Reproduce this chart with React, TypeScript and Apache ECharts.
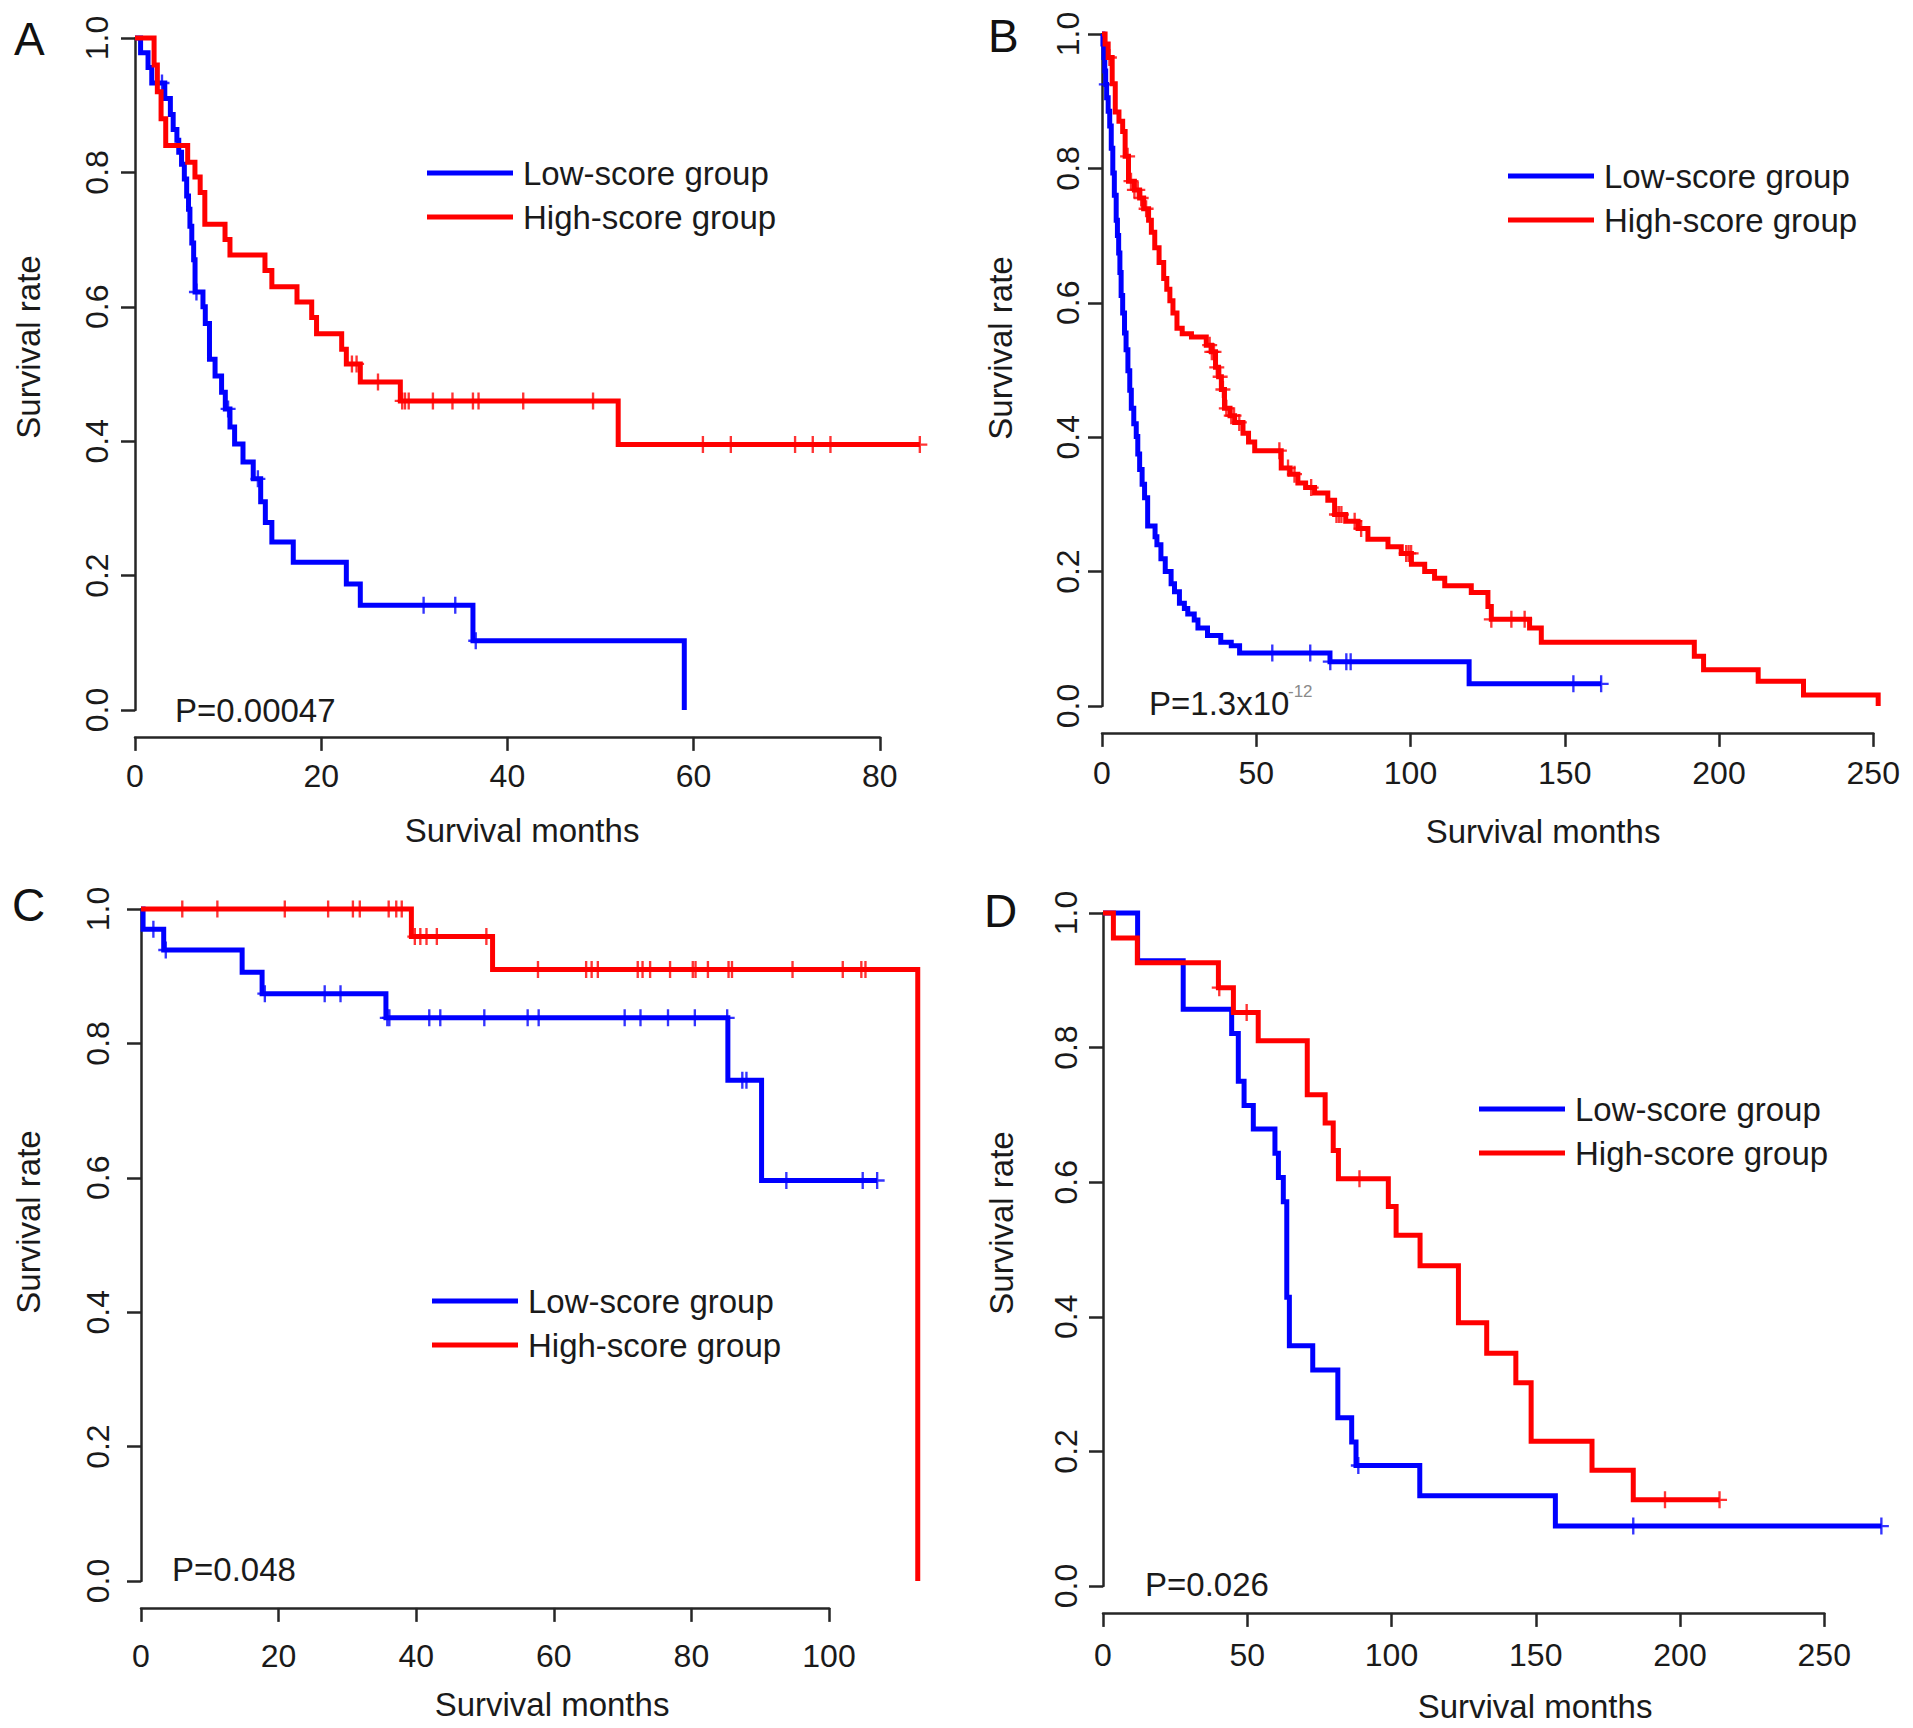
import React, { useEffect, useRef } from "react";
import * as echarts from "echarts";

// ---------------- DATA ----------------
const groupNames = ["Low-score group", "High-score group"];
const yTickLabels = [0, 0.2, 0.4, 0.6, 0.8, 1.0];

// Panel A
const A_lowTimes = [0.6, 1.4, 1.8, 3.2, 3.8, 4.1, 4.5, 4.7, 5.0, 5.3, 5.55, 5.75, 5.9, 6.1, 6.3, 6.45, 7.3, 7.55, 8.0, 8.6, 9.3, 9.7, 10.2, 10.7, 11.6, 12.7, 13.5, 14.0, 14.7, 17.0, 22.7, 24.2, 36.3, 59.0];
const A_lowSurv = [0.978, 0.956, 0.933, 0.91, 0.886, 0.864, 0.848, 0.83, 0.812, 0.79, 0.765, 0.745, 0.72, 0.695, 0.67, 0.622, 0.6, 0.575, 0.522, 0.497, 0.473, 0.448, 0.421, 0.396, 0.369, 0.344, 0.31, 0.279, 0.25, 0.22, 0.1875, 0.156, 0.103, 0];
const A_lowCensor = [2.9, 6.6, 10.0, 13.2, 31.0, 34.4, 36.6];
const A_highTimes = [2.05, 2.4, 2.8, 3.3, 5.66, 6.44, 7.0, 7.5, 9.67, 10.2, 13.96, 14.7, 17.4, 18.98, 19.5, 22.2, 22.7, 24.2, 28.5, 51.9];
const A_highSurv = [0.96, 0.92, 0.88, 0.84, 0.815, 0.793, 0.77, 0.723, 0.7, 0.677, 0.654, 0.63, 0.607, 0.584, 0.56, 0.537, 0.515, 0.488, 0.46, 0.395];
const A_highCensor = [23.3, 23.8, 26.1, 28.7, 29.0, 29.4, 32.0, 34.1, 36.3, 36.9, 41.7, 49.2, 61.0, 64.0, 70.9, 72.8, 74.7, 84.3];
const A_xTicks = [0, 20, 40, 60, 80];
const A_pText = "P=0.00047";

// Panel B
const B_lowTimes = [0.3, 0.6, 0.9, 1.2, 1.5, 2.0, 2.5, 3.0, 3.5, 4.0, 4.6, 5.0, 5.4, 5.8, 6.2, 6.7, 7.3, 7.8, 8.4, 9.0, 9.5, 10.3, 11.1, 11.6, 12.2, 13.0, 13.8, 14.8, 17.2, 17.8, 19.1, 20.5, 22.4, 23.5, 25.1, 26.7, 27.8, 29.9, 31.1, 34.2, 38.5, 41.9, 44.6, 73.9, 119.0];
const B_lowSurv = [0.985, 0.965, 0.945, 0.925, 0.905, 0.885, 0.863, 0.83, 0.793, 0.76, 0.723, 0.7, 0.674, 0.645, 0.611, 0.585, 0.555, 0.53, 0.499, 0.47, 0.443, 0.42, 0.401, 0.375, 0.352, 0.33, 0.31, 0.268, 0.252, 0.24, 0.219, 0.2, 0.182, 0.17, 0.153, 0.145, 0.137, 0.128, 0.116, 0.105, 0.095, 0.0896, 0.079, 0.066, 0.033];
const B_lowCensor = [1.4, 55.2, 67.5, 74.0, 79.2, 80.6, 152.8, 161.8];
const B_highTimes = [1.0, 2.0, 3.3, 4.3, 5.5, 6.7, 7.5, 8.6, 10.5, 12.2, 13.5, 15.1, 16.0, 17.1, 18.5, 20.0, 21.0, 22.0, 23.0, 24.3, 26.0, 29.0, 33.8, 35.5, 36.8, 37.8, 38.7, 39.7, 41.5, 43.0, 45.7, 47.5, 49.5, 58.1, 61.0, 63.5, 66.0, 68.9, 73.2, 75.4, 79.0, 83.0, 86.2, 92.7, 97.0, 100.3, 104.6, 107.8, 111.1, 119.7, 125.1, 126.2, 138.6, 142.4, 192.0, 195.0, 212.7, 227.4, 251.6];
const B_highSurv = [0.985, 0.965, 0.926, 0.884, 0.87, 0.855, 0.818, 0.781, 0.768, 0.756, 0.74, 0.723, 0.705, 0.682, 0.66, 0.636, 0.62, 0.603, 0.585, 0.562, 0.554, 0.549, 0.537, 0.527, 0.504, 0.49, 0.471, 0.443, 0.432, 0.422, 0.406, 0.393, 0.38, 0.354, 0.345, 0.332, 0.325, 0.317, 0.306, 0.285, 0.275, 0.264, 0.248, 0.237, 0.227, 0.211, 0.2, 0.19, 0.179, 0.169, 0.148, 0.129, 0.116, 0.095, 0.074, 0.054, 0.037, 0.0165, 0];
const B_highCensor = [2.4, 8.3, 9.4, 10.5, 11.6, 12.7, 14.3, 34.9, 35.6, 36.3, 37.2, 38.3, 39.2, 40.3, 41.9, 42.8, 44.5, 57.5, 60.3, 62.4, 67.8, 76.0, 76.8, 77.6, 81.9, 84.0, 98.6, 99.4, 100.2, 126.2, 132.7, 137.0];
const B_xTicks = [0, 50, 100, 150, 200, 250];
const B_pText = "P=1.3x10";
const B_pExp = "-12";

// Panel C
const C_lowTimes = [0.3, 3.3, 14.7, 17.6, 35.6, 85.3, 90.2];
const C_lowSurv = [0.97, 0.939, 0.906, 0.874, 0.838, 0.745, 0.596];
const C_lowCensor = [1.8, 3.6, 18.0, 26.7, 29.0, 35.8, 36.1, 41.9, 43.5, 49.9, 56.2, 57.8, 70.3, 72.6, 76.6, 80.5, 85.2, 87.4, 88.0, 93.8, 104.9, 107.0];
const C_highTimes = [39.3, 51.1, 112.9];
const C_highSurv = [0.959, 0.91, 0];
const C_highCensor = [6.0, 11.1, 20.9, 27.2, 30.8, 31.8, 36.0, 37.1, 37.9, 39.8, 40.6, 41.5, 43.0, 50.2, 57.7, 64.7, 65.5, 66.4, 72.2, 72.9, 74.0, 76.9, 80.2, 80.6, 82.4, 85.4, 85.9, 94.7, 102.0, 104.7, 105.3];
const C_xTicks = [0, 20, 40, 60, 80, 100];
const C_pText = "P=0.048";

// Panel D
const D_lowTimes = [12.0, 27.8, 44.6, 46.9, 48.9, 52.1, 59.6, 60.8, 62.5, 63.7, 64.6, 72.7, 81.4, 86.2, 87.7, 109.8, 156.8];
const D_lowSurv = [0.929, 0.857, 0.821, 0.75, 0.714, 0.679, 0.643, 0.607, 0.571, 0.429, 0.357, 0.321, 0.25, 0.214, 0.179, 0.134, 0.089];
const D_lowCensor = [88.5, 183.8, 269.8];
const D_highTimes = [3.6, 11.9, 40.0, 45.2, 53.8, 70.8, 77.0, 79.8, 81.6, 98.9, 101.6, 109.9, 123.2, 133.0, 143.1, 148.4, 169.5, 183.8];
const D_highSurv = [0.963, 0.926, 0.889, 0.852, 0.81, 0.73, 0.688, 0.647, 0.605, 0.564, 0.521, 0.476, 0.391, 0.346, 0.302, 0.215, 0.172, 0.128];
const D_highCensor = [40.3, 49.8, 88.9, 194.8, 213.7];
const D_xTicks = [0, 50, 100, 150, 200, 250];
const D_pText = "P=0.026";

// ---------------- LAYOUT (pixels) ----------------
const PANELS = [
  {
    letter: "A", lowT: A_lowTimes, lowS: A_lowSurv, lowC: A_lowCensor, highT: A_highTimes, highS: A_highSurv, highC: A_highCensor, xTicks: A_xTicks, p: A_pText, pExp: "",
    x0: 135, ppu: 9.31, y1: 38, span: 672, xMax: 88, xLabMargin: 23, yLabMargin: 22,
    letterPos: [14, 39], xTitle: [522, 830], yTitle: [28, 347], pPos: [175, 710], legPos: [427, 155],
  },
  {
    letter: "B", lowT: B_lowTimes, lowS: B_lowSurv, lowC: B_lowCensor, highT: B_highTimes, highS: B_highSurv, highC: B_highCensor, xTicks: B_xTicks, p: B_pText, pExp: B_pExp,
    x0: 1102, ppu: 3.085, y1: 34, span: 672, xMax: 262, xLabMargin: 24, yLabMargin: 18,
    letterPos: [988, 36], xTitle: [1543, 831], yTitle: [1000, 348], pPos: [1149, 703], legPos: [1508, 158],
  },
  {
    letter: "C", lowT: C_lowTimes, lowS: C_lowSurv, lowC: C_lowCensor, highT: C_highTimes, highS: C_highSurv, highC: C_highCensor, xTicks: C_xTicks, p: C_pText, pExp: "",
    x0: 141, ppu: 6.88, y1: 909, span: 672, xMax: 117.5, xLabMargin: 32, yLabMargin: 27,
    letterPos: [12, 905], xTitle: [552, 1704], yTitle: [28, 1222], pPos: [172, 1569], legPos: [432, 1283],
  },
  {
    letter: "D", lowT: D_lowTimes, lowS: D_lowSurv, lowC: D_lowCensor, highT: D_highTimes, highS: D_highSurv, highC: D_highCensor, xTicks: D_xTicks, p: D_pText, pExp: "",
    x0: 1103, ppu: 2.885, y1: 913, span: 673, xMax: 280, xLabMargin: 26, yLabMargin: 21,
    letterPos: [984, 911], xTitle: [1535, 1706], yTitle: [1001, 1223], pPos: [1145, 1584], legPos: [1479, 1091],
  },
];

const FONT = "'Liberation Sans', Arial, Helvetica, sans-serif";
const TXT = "#1a1a1a";
const AXIS = "#262626";
const BLUE = "#0000FF";
const RED = "#FF0000";
const PLUS = "path://M-1.1,-8H1.1V-1.1H7V1.1H1.1V8H-1.1V1.1H-7V-1.1H-1.1Z";

function stepAt(times: number[], surv: number[], t: number) {
  let v = 1;
  for (let i = 0; i < times.length; i++) if (times[i] <= t) v = surv[i];
  return v;
}

function curveData(times: number[], surv: number[], censor: number[]) {
  const d: number[][] = [[0, 1]];
  times.forEach((t, i) => d.push([t, surv[i]]));
  const lastT = times[times.length - 1];
  const maxC = censor.length ? Math.max(...censor) : 0;
  if (maxC > lastT) d.push([maxC, surv[surv.length - 1]]);
  return d;
}

function buildOption() {
  const grid: any[] = [];
  const xAxis: any[] = [];
  const yAxis: any[] = [];
  const series: any[] = [];
  const legend: any[] = [];
  const graphic: any[] = [];

  const axisLine = { show: true, onZero: false, lineStyle: { color: AXIS, width: 2.5 } };
  const axisTick = { show: true, length: 14, inside: false, lineStyle: { color: AXIS, width: 2.5 } };

  PANELS.forEach((p, i) => {
    const plotTop = p.y1 - 0.04 * p.span;
    const plotH = 1.08 * p.span;
    const tickMax = p.xTicks[p.xTicks.length - 1];
    const tickStep = p.xTicks[1] - p.xTicks[0];
    const gi = i * 3;

    grid.push({ left: p.x0, top: plotTop, width: p.xMax * p.ppu, height: plotH });
    grid.push({ left: p.x0, top: plotTop, width: tickMax * p.ppu, height: plotH });
    grid.push({ left: p.x0, top: p.y1, width: 10, height: p.span });

    xAxis.push({ gridIndex: gi, type: "value", min: 0, max: p.xMax, show: false });
    yAxis.push({ gridIndex: gi, type: "value", min: -0.04, max: 1.04, show: false });
    xAxis.push({
      gridIndex: gi + 1, type: "value", min: 0, max: tickMax, interval: tickStep,
      axisLine, axisTick, splitLine: { show: false },
      axisLabel: { margin: p.xLabMargin, fontSize: 32, color: TXT, fontFamily: FONT, showMinLabel: true, showMaxLabel: true },
    });
    yAxis.push({ gridIndex: gi + 1, type: "value", min: 0, max: 1, show: false });
    xAxis.push({ gridIndex: gi + 2, type: "value", min: 0, max: 1, show: false });
    yAxis.push({
      gridIndex: gi + 2, type: "value", min: yTickLabels[0], max: yTickLabels[yTickLabels.length - 1],
      interval: yTickLabels[1] - yTickLabels[0],
      axisLine, axisTick, splitLine: { show: false },
      axisLabel: {
        rotate: 90, margin: p.yLabMargin, fontSize: 32, color: TXT, fontFamily: FONT,
        formatter: (v: number) => v.toFixed(1), showMinLabel: true, showMaxLabel: true,
      },
    });

    const groups = [
      { name: groupNames[0], t: p.lowT, s: p.lowS, c: p.lowC, color: BLUE },
      { name: groupNames[1], t: p.highT, s: p.highS, c: p.highC, color: RED },
    ];
    groups.forEach((g) => {
      series.push({
        name: g.name, type: "line", xAxisIndex: gi, yAxisIndex: gi, step: "end",
        data: curveData(g.t, g.s, g.c), showSymbol: false, symbol: "none", silent: true,
        lineStyle: { color: g.color, width: 5, cap: "butt", join: "miter" },
        itemStyle: { color: g.color }, emphasis: { disabled: true },
      });
      series.push({
        name: g.name + " censored", type: "scatter", xAxisIndex: gi, yAxisIndex: gi,
        data: g.c.map((t) => [t, stepAt(g.t, g.s, t)]),
        symbol: PLUS, symbolSize: [15, 17], silent: true,
        itemStyle: { color: g.color }, emphasis: { disabled: true },
      });
    });

    legend.push({
      left: p.legPos[0], top: p.legPos[1], orient: "vertical", padding: 0,
      itemGap: 8, itemWidth: 86, itemHeight: 5, icon: "rect", selectedMode: false,
      data: groupNames,
      textStyle: { fontSize: 33, fontFamily: FONT, color: TXT, lineHeight: 36, padding: [0, 0, 0, 5] },
    });

    graphic.push({
      type: "text", x: p.letterPos[0], y: p.letterPos[1], silent: true,
      style: { text: p.letter, fontSize: 46, fontFamily: FONT, fill: "#111", align: "left", verticalAlign: "middle" },
    });
    graphic.push({
      type: "text", x: p.xTitle[0], y: p.xTitle[1], silent: true,
      style: { text: "Survival months", fontSize: 33, fontFamily: FONT, fill: TXT, align: "center", verticalAlign: "middle" },
    });
    graphic.push({
      type: "text", x: p.yTitle[0], y: p.yTitle[1], rotation: Math.PI / 2, silent: true,
      style: { text: "Survival rate", fontSize: 33, fontFamily: FONT, fill: TXT, align: "center", verticalAlign: "middle" },
    });
    graphic.push({
      type: "text", x: p.pPos[0], y: p.pPos[1], silent: true,
      style: { text: p.p, fontSize: 33, fontFamily: FONT, fill: TXT, align: "left", verticalAlign: "middle" },
    });
    if (p.pExp) {
      graphic.push({
        type: "text", x: 1288, y: 691, silent: true,
        style: { text: p.pExp, fontSize: 17, fontFamily: FONT, fill: "#8a8a8a", align: "left", verticalAlign: "middle" },
      });
    }
  });

  return {
    animation: false,
    backgroundColor: "#ffffff",
    textStyle: { fontFamily: FONT },
    grid, xAxis, yAxis, series, legend, graphic,
  };
}

export default function App() {
  const ref = useRef<HTMLDivElement>(null);
  useEffect(() => {
    if (!ref.current) return;
    const chart = echarts.init(ref.current, undefined, { renderer: "svg" });
    chart.setOption(buildOption() as any);
    return () => chart.dispose();
  }, []);
  return (
    <div
      ref={ref}
      style={{ position: "absolute", left: 0, top: 0, width: 1913, height: 1728, background: "#fff" }}
    />
  );
}
